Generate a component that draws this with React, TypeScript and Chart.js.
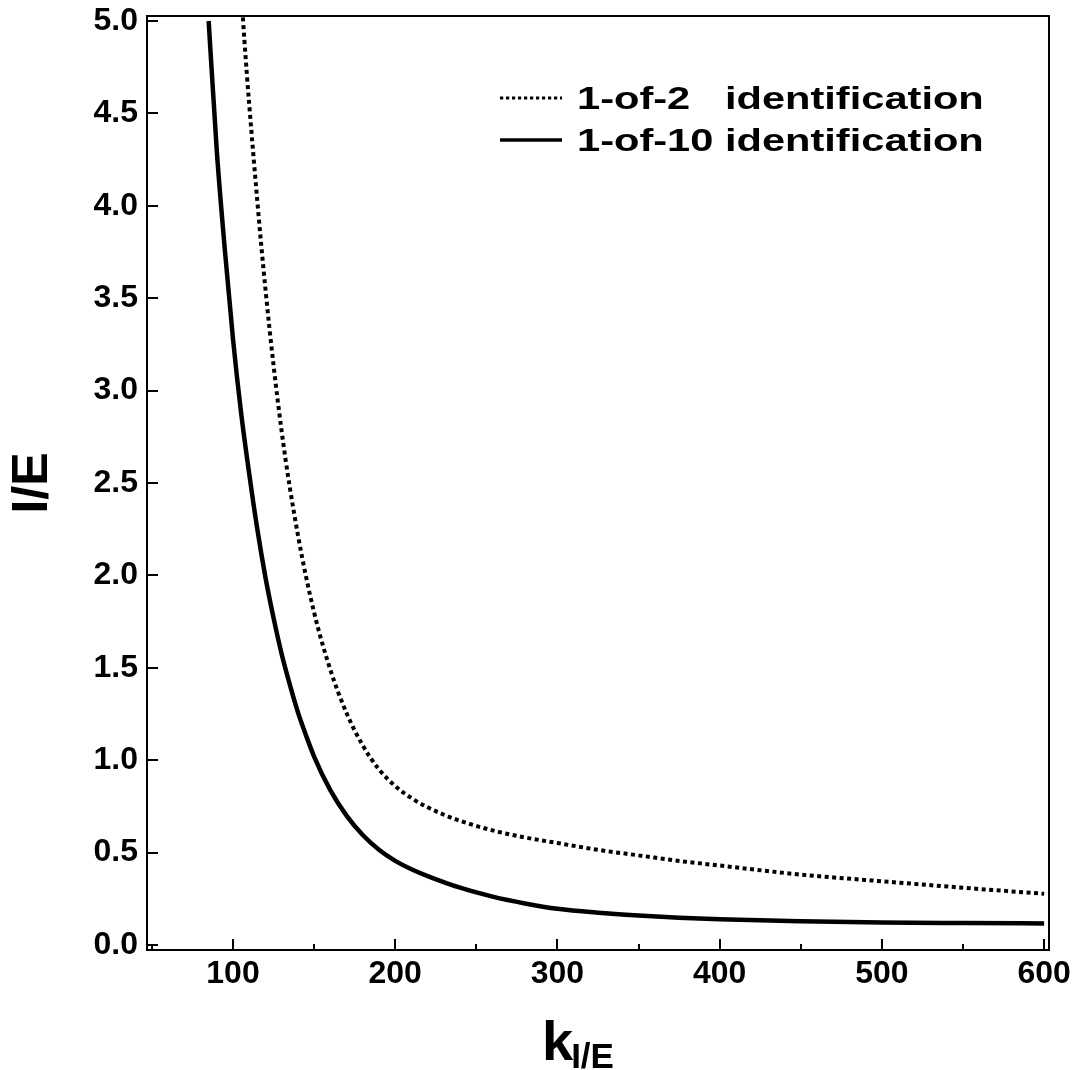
import React, { useEffect, useRef } from "react";
import { Chart, registerables } from "chart.js";

Chart.register(...registerables);

// ---- data ----
const kOneOfTwo = [105.5, 107, 110, 120, 130, 140, 150, 160, 170, 180, 190, 200, 210, 220, 230, 240, 260, 280, 300, 325, 350, 375, 400, 450, 500, 550, 600];
const ieOneOfTwo = [5.1, 4.9, 4.55, 3.55, 2.78, 2.22, 1.8, 1.49, 1.255, 1.08, 0.95, 0.86, 0.795, 0.745, 0.705, 0.672, 0.62, 0.582, 0.552, 0.515, 0.485, 0.455, 0.43, 0.381, 0.345, 0.31, 0.277];

const kOneOfTen = [85, 90, 95, 100, 105, 110, 115, 120, 125, 130, 135, 140, 145, 150, 160, 170, 180, 190, 200, 210, 220, 240, 260, 280, 300, 325, 350, 375, 400, 450, 500, 550, 600];
const ieOneOfTen = [5.0, 4.3, 3.76, 3.28, 2.88, 2.55, 2.25, 1.99, 1.77, 1.575, 1.41, 1.26, 1.135, 1.02, 0.838, 0.7, 0.595, 0.515, 0.455, 0.41, 0.373, 0.31, 0.262, 0.225, 0.196, 0.175, 0.16, 0.148, 0.139, 0.129, 0.122, 0.119, 0.117];

const seriesLabels = ["1-of-2   identification", "1-of-10 identification"];

const xMajorTicks = [100, 200, 300, 400, 500, 600];
const xMinorTicks = [50, 150, 250, 350, 450, 550];
const yTicks = [0, 0.5, 1, 1.5, 2, 2.5, 3, 3.5, 4, 4.5, 5];

const xTitleMain = "k";
const xTitleSub = "I/E";
const yTitle = "I/E";

const FONT = "'Liberation Sans', Arial, Helvetica, sans-serif";

const decorPlugin = {
  id: "decor",
  afterDraw(chart: any) {
    const { ctx, chartArea: a, scales } = chart;
    const x = scales.x;
    const y = scales.y;
    ctx.save();
    ctx.strokeStyle = "#000";
    ctx.fillStyle = "#000";
    ctx.lineWidth = 2;
    ctx.setLineDash([]);
    // frame
    ctx.strokeRect(a.left, a.top, a.right - a.left, a.bottom - a.top);
    // inward ticks
    ctx.beginPath();
    for (const v of xMajorTicks) {
      const px = Math.round(x.getPixelForValue(v));
      ctx.moveTo(px, a.bottom);
      ctx.lineTo(px, a.bottom - 11);
    }
    for (const v of xMinorTicks) {
      const px = Math.round(x.getPixelForValue(v));
      ctx.moveTo(px, a.bottom);
      ctx.lineTo(px, a.bottom - 6);
    }
    for (const v of yTicks) {
      const py = Math.round(y.getPixelForValue(v));
      ctx.moveTo(a.left, py);
      ctx.lineTo(a.left + 11, py);
    }
    ctx.stroke();

    // y title
    ctx.save();
    ctx.translate(33, (a.top + a.bottom) / 2);
    ctx.rotate(-Math.PI / 2);
    ctx.font = `bold 50px ${FONT}`;
    ctx.textAlign = "center";
    ctx.textBaseline = "middle";
    ctx.fillText(yTitle, 0, 0);
    ctx.restore();

    // x title with subscript
    const cx = (a.left + a.right) / 2;
    ctx.textAlign = "left";
    ctx.textBaseline = "alphabetic";
    ctx.font = `bold 56px ${FONT}`;
    const kx = cx - 56;
    ctx.fillText(xTitleMain, kx, a.bottom + 110);
    const kw = ctx.measureText(xTitleMain).width;
    ctx.font = `bold 35px ${FONT}`;
    ctx.fillText(xTitleSub, kx + kw - 2, a.bottom + 118);

    // legend
    const ds = chart.data.datasets;
    const sx0 = a.left + 353;
    const sx1 = a.left + 415;
    const tx = a.left + 430;
    const scaleX = 1.3;
    ctx.font = `bold 32px ${FONT}`;
    let col = 0;
    const parts = ds.map((d: any) => {
      const m = String(d.label).match(/^(\S+)\s+(.*)$/);
      const p = m ? [m[1], m[2]] : [String(d.label), ""];
      col = Math.max(col, ctx.measureText(p[0] + " ").width);
      return p;
    });
    ds.forEach((d: any, i: number) => {
      const cy = a.top + 82 + i * 42;
      ctx.save();
      ctx.lineWidth = d.borderWidth - 1;
      ctx.lineCap = "butt";
      ctx.setLineDash((d.borderDash || []).map((v: number) => v * 0.8));
      ctx.beginPath();
      ctx.moveTo(sx0, cy);
      ctx.lineTo(sx1, cy);
      ctx.stroke();
      ctx.restore();
      ctx.save();
      ctx.translate(tx, cy + 11);
      ctx.scale(scaleX, 1);
      ctx.font = `bold 32px ${FONT}`;
      ctx.textBaseline = "alphabetic";
      ctx.fillText(parts[i][0], 0, 0);
      ctx.fillText(parts[i][1], col, 0);
      ctx.restore();
    });
    ctx.restore();
  },
};

export default function App() {
  const ref = useRef<HTMLCanvasElement | null>(null);

  useEffect(() => {
    if (!ref.current) return;
    const tickFont = { family: FONT, size: 32, weight: "bold" as const };
    const chart = new Chart(ref.current, {
      type: "line",
      data: {
        datasets: [
          {
            label: seriesLabels[0],
            data: kOneOfTwo.map((k, i) => ({ x: k, y: ieOneOfTwo[i] })),
            borderColor: "#000",
            borderWidth: 4,
            borderDash: [4, 3.5],
            borderCapStyle: "butt",
            pointRadius: 0,
            fill: false,
            cubicInterpolationMode: "monotone",
          },
          {
            label: seriesLabels[1],
            data: kOneOfTen.map((k, i) => ({ x: k, y: ieOneOfTen[i] })),
            borderColor: "#000",
            borderWidth: 4.5,
            pointRadius: 0,
            fill: false,
            cubicInterpolationMode: "monotone",
          },
        ],
      },
      options: {
        responsive: false,
        animation: false,
        layout: { padding: { top: 16, right: 31, left: 0, bottom: 0 } },
        plugins: { legend: { display: false }, tooltip: { enabled: false } },
        scales: {
          x: {
            type: "linear",
            min: 47,
            max: 603,
            afterBuildTicks: (s: any) => {
              s.ticks = xMajorTicks.map((v) => ({ value: v }));
            },
            afterFit: (s: any) => {
              s.height = 120;
              s.paddingLeft = 0;
              s.paddingRight = 0;
              s.paddingTop = 0;
              s.paddingBottom = 0;
            },
            grid: { display: false, drawTicks: false },
            border: { display: false },
            ticks: {
              font: tickFont,
              color: "#000",
              padding: 5,
              maxRotation: 0,
              autoSkip: false,
              callback: (v: any) => String(v),
            },
          },
          y: {
            type: "linear",
            min: -0.027,
            max: 5.027,
            afterBuildTicks: (s: any) => {
              s.ticks = yTicks.map((v) => ({ value: v }));
            },
            afterFit: (s: any) => {
              s.width = 147;
              s.paddingLeft = 0;
              s.paddingRight = 0;
              s.paddingTop = 0;
              s.paddingBottom = 0;
            },
            grid: { display: false, drawTicks: false },
            border: { display: false },
            ticks: {
              font: tickFont,
              color: "#000",
              padding: 9,
              autoSkip: false,
              callback: (v: any) => Number(v).toFixed(1),
            },
          },
        },
      },
      plugins: [decorPlugin],
    } as any);
    return () => chart.destroy();
  }, []);

  return (
    <div style={{ position: "absolute", left: 0, top: 0, width: 1080, height: 1070, background: "#fff" }}>
      <canvas ref={ref} width={1080} height={1070} />
    </div>
  );
}
